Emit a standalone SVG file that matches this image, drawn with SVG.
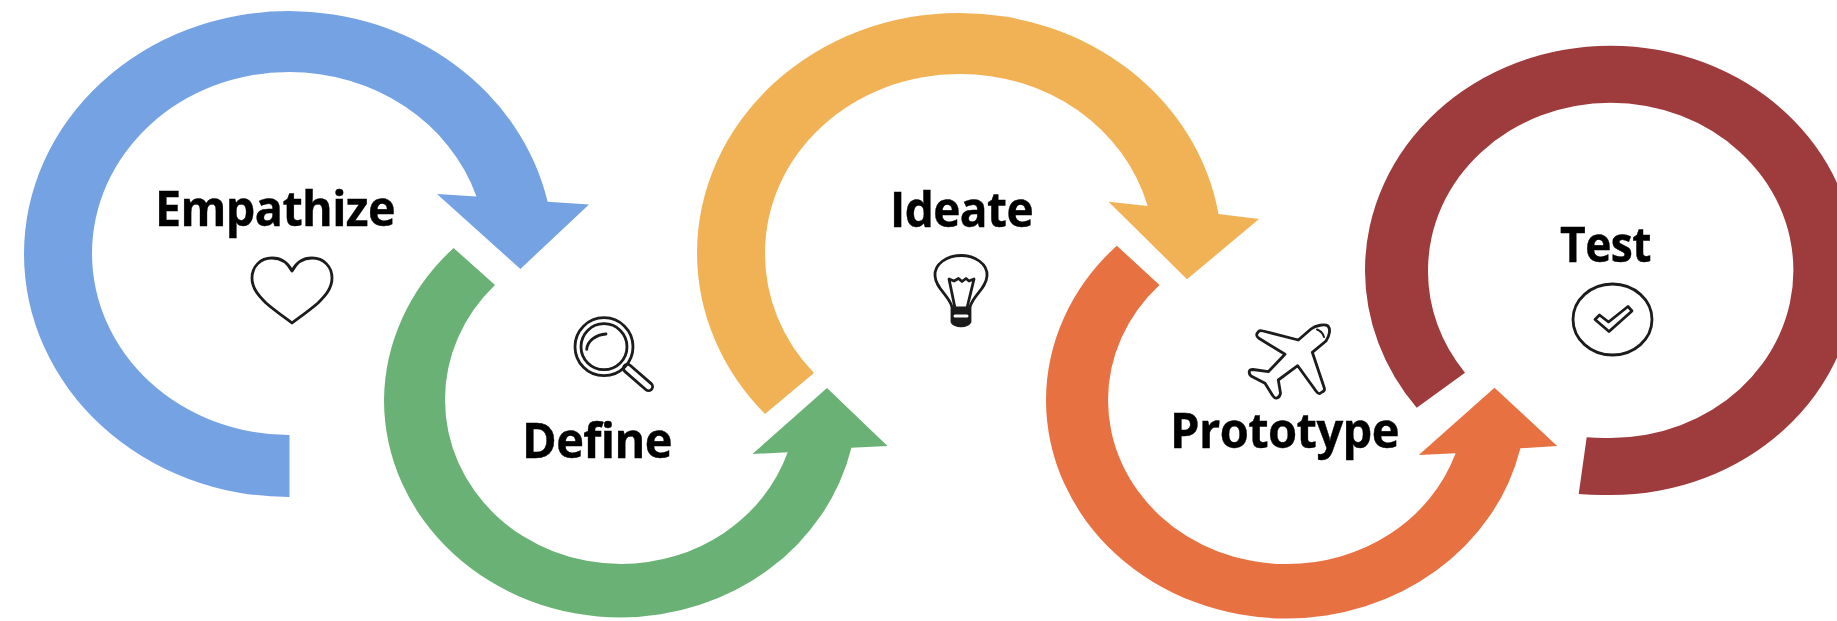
<svg xmlns="http://www.w3.org/2000/svg" width="1837" height="621" viewBox="0 0 1837 621">
<defs>
<filter id="soft" filterUnits="userSpaceOnUse" x="0" y="0" width="1837" height="621"><feGaussianBlur stdDeviation="0.6"/></filter>
</defs>
<style>
.label{font-family:"Open Sans","Noto Sans","Liberation Sans",sans-serif;font-weight:700;font-size:48px;letter-spacing:-.6px;fill:#000;stroke:#000;stroke-width:.4px}
.icon{fill:none;stroke:#1a1a1a;stroke-width:2.8;stroke-linejoin:round;stroke-linecap:round}
</style>
<rect width="1837" height="621" fill="#fff"/>
<g filter="url(#soft)">
<g id="connectors">
<path id="arrow-empathize" fill="#75A2E3" d="M289.5 497A265 243 0 0 1 24 254A265 243 0 0 1 289 11A265 243 0 0 1 547.6 201.7L589 204.4L520.4 269L437 194L476.5 196.5A197 181.5 0 0 0 289 72A197 181.5 0 0 0 92 253.5A197 181.5 0 0 0 289.5 435Z"/>
<path id="arrow-define" fill="#6BB176" d="M453.6 248A237 217.5 0 0 0 384 400A237 217.5 0 0 0 621 617.5A237 217.5 0 0 0 851.4 447.7L887.5 446L827 388L752.5 454L787.7 452.3A176 164 0 0 1 621 564A176 164 0 0 1 445 400A176 164 0 0 1 495 285Z"/>
<path id="arrow-ideate" fill="#F0B255" d="M765 414A262 240 0 0 1 697 253A262 240 0 0 1 959 13A262 240 0 0 1 1218.5 214L1259 219L1187 279.3L1108.6 201.7L1147.7 206A194 179 0 0 0 959 74A194 179 0 0 0 765 253A194 179 0 0 0 814 373Z"/>
<path id="arrow-prototype" fill="#E77141" d="M1116.8 245.7A240 218.5 0 0 0 1046 400A240 218.5 0 0 0 1286 618.5A240 218.5 0 0 0 1520.4 448.3L1557.2 446L1494.5 387.7L1418.8 455L1455.6 453.3A178 164 0 0 1 1286 564A178 164 0 0 1 1108 400A178 164 0 0 1 1159.5 285Z"/>
<path id="arc-test" fill="#9E3A3C" d="M1416.7 407.7A245.7 224.6 0 0 1 1365 270.4A245.7 224.6 0 0 1 1610.7 45.7A245.7 224.6 0 0 1 1856.4 270.4A245.7 224.6 0 0 1 1610.7 495A245.7 224.6 0 0 1 1578.7 494L1586.7 437.3A182.7 167.6 0 0 0 1610.7 438A182.7 167.6 0 0 0 1793.4 270.4A182.7 167.6 0 0 0 1610.7 102.8A182.7 167.6 0 0 0 1428 270.4A182.7 167.6 0 0 0 1465 372.7Z"/>
</g>
<g id="node-empathize">
<text class="label" x="155" y="226" textLength="240" lengthAdjust="spacingAndGlyphs">Empathize</text>
<path class="icon" d="M292 271C288 263 281 258 272 258C260 258 252 267 252 278C252 288 258 295 266 303C274 310 284 317 292 323C300 317 310 310 318 303C326 295 332 288 332 278C332 267 324 258 312 258C303 258 296 263 292 271Z"/>
</g>
<g id="node-define">
<text class="label" x="522" y="458" textLength="150" lengthAdjust="spacingAndGlyphs">Define</text>
<g class="icon">
<circle cx="604" cy="346.7" r="29"/>
<circle cx="604" cy="346.7" r="23"/>
<path d="M586.7 349.3C587.5 341 596 334.5 606 334"/>
<rect x="620" y="373.5" width="36" height="8" rx="4" transform="rotate(41 638 377.5)"/>
</g>
</g>
<g id="node-ideate">
<text class="label" x="890" y="226.5" textLength="143" lengthAdjust="spacingAndGlyphs">Ideate</text>
<g class="icon">
<path d="M952 307C949 295 936 289 935 276C934 264 947 255.5 961 255.5C975 255.5 988 264 987 276C986 289 973 295 970 307"/>
<path d="M955 308L949 279L954 281L958.5 278.5L962 281.5L966 278.5L969 281L974 279L967 308"/>
<path fill="#1a1a1a" d="M952 308H970V322C967 327 955 327 952 322Z"/>
<path d="M955 316H967" stroke="#fff" stroke-width="3"/>
</g>
</g>
<g id="node-prototype">
<text class="label" x="1170" y="448" textLength="229" lengthAdjust="spacingAndGlyphs">Prototype</text>
<g class="icon">
<path d="M1258.3 331.7Q1260 330 1263 331L1298.3 340L1311 329C1316 325 1325 324 1328 326C1330.5 329 1330 335 1326 341L1312.3 352.3L1324.3 388Q1325 391 1322 392L1320 393.5Q1318 394 1316 391L1297.7 365.7L1278.3 380L1280.5 393Q1280 397 1277 398Q1275 398.8 1273 396L1265 383.3L1251 376Q1248 373 1250 370Q1251 369.5 1253 369.5L1268.3 371.7L1285 354.3L1258.5 338Q1255 335 1258.3 331.7Z"/>
<path d="M1317 329.5Q1322 331 1324 337" stroke-width="2"/>
</g>
</g>
<g id="node-test">
<text class="label" x="1560" y="262" textLength="91" lengthAdjust="spacingAndGlyphs">Test</text>
<g class="icon">
<ellipse cx="1612.5" cy="319.5" rx="39.5" ry="35.5"/>
<path d="M1595 319.5L1599.5 315L1608.5 322L1628 306.5L1632 311L1609 331.5Z"/>
</g>
</g>
</g>
</svg>
